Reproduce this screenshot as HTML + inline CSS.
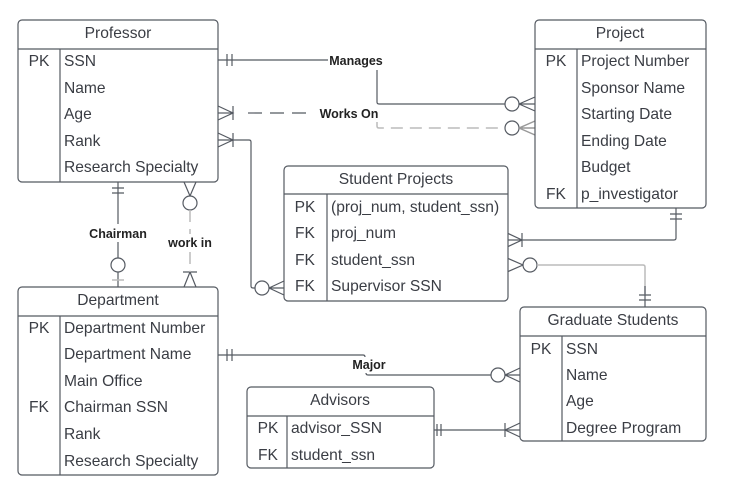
<!DOCTYPE html>
<html><head><meta charset="utf-8"><style>
html,body{margin:0;padding:0;background:#fff}
svg{display:block;font-family:"Liberation Sans",sans-serif}
.t{font-size:15.6px;fill:#3a3d44}
.h{font-size:15.6px;fill:#3a3d44;text-anchor:middle}
.k{font-size:15.6px;fill:#3a3d44;text-anchor:middle}
.l{font-size:12.5px;font-weight:bold;fill:#222;text-anchor:middle}
.b{fill:#fff;stroke:#555a62;stroke-width:1.2}
.ln{stroke:#555a62;stroke-width:1.2;fill:none}
.g{stroke:#bbb;stroke-width:1.5;fill:none}
</style></head><body>
<svg width="740" height="492" viewBox="0 0 740 492">
<g class="ln">
<path d="M218 60H328"/><path d="M227 54v12M232 54v12"/>
<path d="M377 70V102q0 2 2 2H505"/><circle cx="512" cy="104" r="7" fill="#fff"/><path d="M519 104L535 97M519 104L535 111M519 104H535"/>
<path d="M218 113H233" /><path d="M218 106L233 113L218 120M233 106v14"/>
<path d="M248 113H312" stroke-dasharray="14 8"/>
<path d="M218 140H249q2 0 2 2V286q0 2 2 2h2"/><path d="M218 133L233 140L218 147M233 133v14"/>
<circle cx="262" cy="288" r="7" fill="#fff"/><path d="M269 288L284 281M269 288L284 295M269 288H284"/>
<path d="M676 208V238q0 2 -2 2H507"/><path d="M670 214h12M670 219h12"/><path d="M507 233L522 240L507 247M522 233v14"/>
<path d="M507 258L523 265L507 272"/><circle cx="530" cy="265" r="7" fill="#fff"/>
<path d="M645 286V307"/><path d="M639 295h12M639 300h12"/>
<path d="M118 182V224M118 242V258M118 272V287"/><path d="M112 188h12M112 193h12"/><circle cx="118" cy="265" r="7" fill="#fff"/>
<path d="M184 182L190 196L196 182"/><circle cx="190" cy="203" r="7" fill="#fff"/>
<path d="M184 287L190 272L196 287M183 272h14"/>
<path d="M218 355H363q2 0 2 2"/><path d="M227 349v12M232 349v12"/>
<path d="M366 373q0 2 2 2H491"/><circle cx="498" cy="375" r="7" fill="#fff"/><path d="M505 375L520 368M505 375L520 382M505 375H520"/>
<path d="M434 430H520"/><path d="M437 424v12M441 424v12"/><path d="M520 423L505 430L520 437M505 423v14"/>
</g>
<g class="g">
<path d="M377 122V126q0 2 2 2H505" stroke-dasharray="12 7"/><circle cx="512" cy="128" r="7" fill="#fff" stroke="#555a62" stroke-width="1.2"/>
<path d="M519 128L535 121M519 128L535 135M519 128H535" stroke="#999"/>
<path d="M537 265H643q2 0 2 2V286"/>
<path d="M190 210V234M190 252V272" stroke-dasharray="12 7"/>
<path d="M112 280h12"/>
</g>
<path d="M645 286V294" class="ln"/>
<text class="l" x="356" y="65">Manages</text>
<text class="l" x="349" y="118">Works On</text>
<text class="l" x="118" y="238">Chairman</text>
<text class="l" x="190" y="247">work in</text>
<text class="l" x="369" y="369">Major</text>

<rect class="b" x="18" y="20" width="200" height="162" rx="4"/>
<path class="ln" d="M18 49H218M60 49V182"/>
<text class="h" x="118" y="38">Professor</text>
<text class="k" x="39" y="66">PK</text>
<text class="t" x="64" y="66">SSN</text><text class="t" x="64" y="93">Name</text><text class="t" x="64" y="119">Age</text><text class="t" x="64" y="146">Rank</text><text class="t" x="64" y="172">Research Specialty</text>

<rect class="b" x="535" y="20" width="171" height="188" rx="4"/>
<path class="ln" d="M535 49H706M577 49V208"/>
<text class="h" x="620" y="38">Project</text>
<text class="k" x="556" y="66">PK</text><text class="k" x="556" y="199">FK</text>
<text class="t" x="581" y="66">Project Number</text><text class="t" x="581" y="93">Sponsor Name</text><text class="t" x="581" y="119">Starting Date</text><text class="t" x="581" y="146">Ending Date</text><text class="t" x="581" y="172">Budget</text><text class="t" x="581" y="199">p_investigator</text>

<rect class="b" x="284" y="166" width="224" height="135" rx="4"/>
<path class="ln" d="M284 194H508M327 194V301"/>
<text class="h" x="396" y="184">Student Projects</text>
<text class="k" x="305" y="212">PK</text><text class="k" x="305" y="238">FK</text><text class="k" x="305" y="265">FK</text><text class="k" x="305" y="291">FK</text>
<text class="t" x="331" y="212">(proj_num, student_ssn)</text><text class="t" x="331" y="238">proj_num</text><text class="t" x="331" y="265">student_ssn</text><text class="t" x="331" y="291">Supervisor SSN</text>

<rect class="b" x="18" y="287" width="200" height="188" rx="4"/>
<path class="ln" d="M18 316H218M60 316V475"/>
<text class="h" x="118" y="305">Department</text>
<text class="k" x="39" y="333">PK</text><text class="k" x="39" y="412">FK</text>
<text class="t" x="64" y="333">Department Number</text><text class="t" x="64" y="359">Department Name</text><text class="t" x="64" y="386">Main Office</text><text class="t" x="64" y="412">Chairman SSN</text><text class="t" x="64" y="439">Rank</text><text class="t" x="64" y="466">Research Specialty</text>

<rect class="b" x="520" y="307" width="186" height="134" rx="4"/>
<path class="ln" d="M520 336H706M562 336V441"/>
<text class="h" x="613" y="325">Graduate Students</text>
<text class="k" x="541" y="354">PK</text>
<text class="t" x="566" y="354">SSN</text><text class="t" x="566" y="380">Name</text><text class="t" x="566" y="406">Age</text><text class="t" x="566" y="433">Degree Program</text>

<rect class="b" x="247" y="387" width="187" height="81" rx="4"/>
<path class="ln" d="M247 416H434M287 416V468"/>
<text class="h" x="340" y="405">Advisors</text>
<text class="k" x="268" y="433">PK</text><text class="k" x="268" y="460">FK</text>
<text class="t" x="291" y="433">advisor_SSN</text><text class="t" x="291" y="460">student_ssn</text>
</svg>
</body></html>
